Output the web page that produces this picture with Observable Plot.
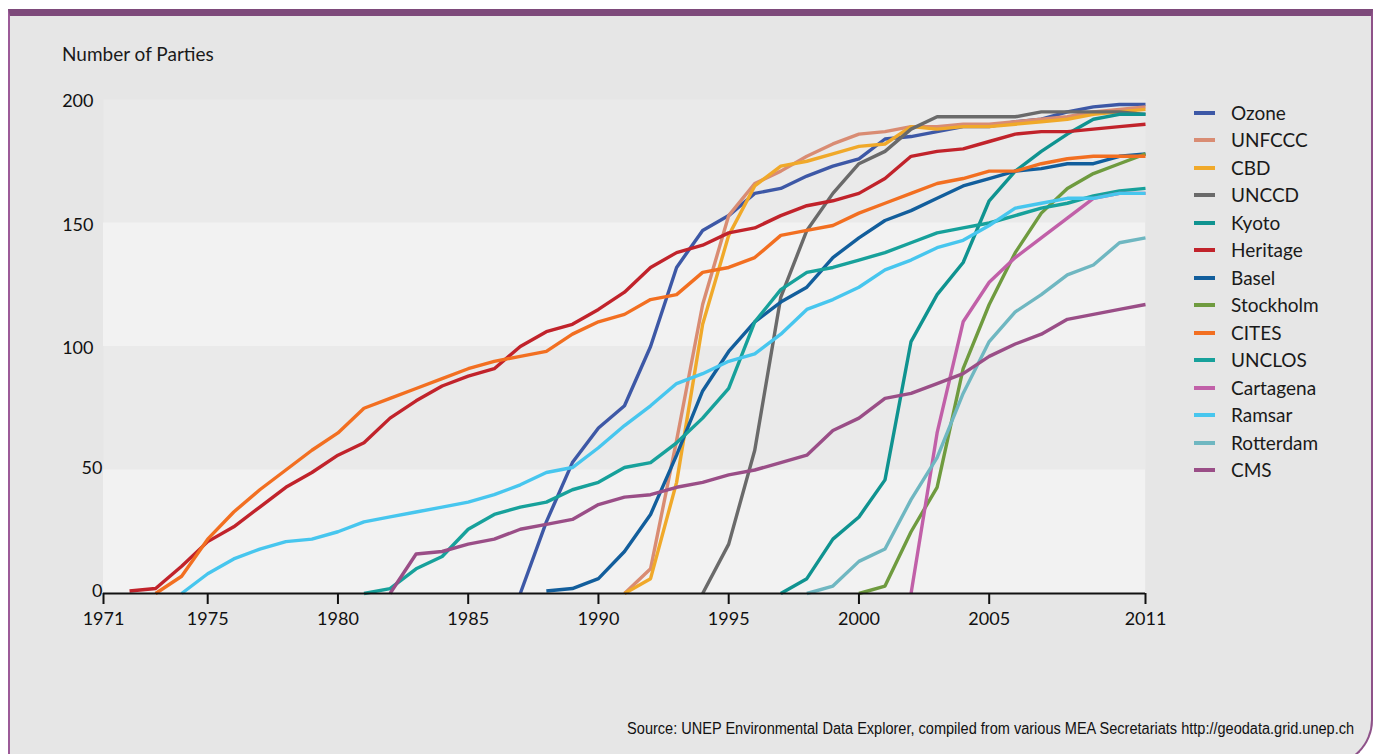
<!DOCTYPE html>
<html>
<head>
<meta charset="utf-8">
<script src="https://cdn.jsdelivr.net/npm/d3@7"></script>
<script src="https://cdn.jsdelivr.net/npm/@observablehq/plot@0.6"></script>
<style>
  html, body { margin: 0; padding: 0; background: #ffffff; }
  body { width: 1373px; height: 754px; overflow: hidden; position: relative; font-family: "Lato", "Noto Sans", sans-serif; color: #1a1a1a; }
  #panel { position: absolute; left: 8px; top: 9px; width: 1365px; height: 757px; box-sizing: border-box;
           background: #e6e6e6; border-top: 7px solid #7e4a7b; border-left: 2px solid #9c5b98;
           border-right: 2px solid #8e5289; border-bottom: 2px solid #8e5289; border-bottom-right-radius: 46px; }
  #chart { position: absolute; left: 0; top: 0; }
  #title { position: absolute; left: 62px; top: 43px; font-size: 19px; line-height: 22px; white-space: nowrap; }
  .lg-item { position: absolute; left: 1194px; height: 22px; }
  .lg-sw { position: absolute; left: 0; top: 9px; width: 21px; height: 4px; }
  .lg-tx { position: absolute; left: 37px; top: 0; font-size: 19px; line-height: 22px; white-space: nowrap; }
  #source { position: absolute; right: 19px; top: 719px; font-family: "Liberation Sans Narrow", "Arial Narrow", "Liberation Sans", sans-serif;
            font-size: 16px; line-height: 20px; white-space: nowrap; color: #111; transform-origin: 100% 50%; }
</style>
</head>
<body>
<div id="panel"></div>
<div id="title">Number of Parties</div>
<div id="chart"></div>
<div id="legend"></div>
<div id="source">Source: UNEP Environmental Data Explorer, compiled from various MEA Secretariats http://geodata.grid.unep.ch</div>
<script>
// ---------- data ----------
const seriesNames  = ["Ozone", "UNFCCC", "CBD", "UNCCD", "Kyoto", "Heritage", "Basel", "Stockholm", "CITES", "UNCLOS", "Cartagena", "Ramsar", "Rotterdam", "CMS"];
const seriesColors = ["#3d58a6", "#d98c73", "#f0a92a", "#6a6a6a", "#0f9390", "#c1232b", "#125e9c", "#6f9b3f", "#f26f21", "#17a19b", "#c160a8", "#47c6ee", "#6fb7c1", "#9a4e87"];
const seriesStart  = [1987, 1991, 1991, 1994, 1997, 1972, 1988, 2000, 1973, 1981, 2002, 1974, 1998, 1982];

const ozone     = [0, 29, 53, 67, 76, 100, 132, 147, 153, 162, 164, 169, 173, 176, 184, 185, 187, 189, 189, 191, 192, 195, 197, 198, 198];
const unfccc    = [0, 10, 62, 117, 153, 166, 171, 177, 182, 186, 187, 189, 189, 190, 190, 191, 192, 193, 195, 196, 197];
const cbd       = [0, 6, 45, 109, 145, 165, 173, 175, 178, 181, 182, 189, 188, 189, 189, 190, 191, 192, 194, 195, 196];
const unccd     = [0, 20, 58, 120, 147, 162, 174, 179, 188, 193, 193, 193, 193, 195, 195, 195, 195, 194];
const kyoto     = [0, 6, 22, 31, 46, 102, 121, 134, 159, 171, 179, 186, 192, 194, 194];
const heritage  = [1, 2, 11, 21, 27, 35, 43, 49, 56, 61, 71, 78, 84, 88, 91, 100, 106, 109, 115, 122, 132, 138, 141, 146, 148, 153, 157, 159, 162, 168, 177, 179, 180, 183, 186, 187, 187, 188, 189, 190];
const basel     = [1, 2, 6, 17, 32, 56, 82, 98, 110, 118, 124, 136, 144, 151, 155, 160, 165, 168, 171, 172, 174, 174, 177, 178];
const stockholm = [0, 3, 25, 43, 91, 117, 138, 154, 164, 170, 174, 178];
const cites     = [0, 7, 22, 33, 42, 50, 58, 65, 75, 79, 83, 87, 91, 94, 96, 98, 105, 110, 113, 119, 121, 130, 132, 136, 145, 147, 149, 154, 158, 162, 166, 168, 171, 171, 174, 176, 177, 177, 177];
const unclos    = [0, 2, 10, 15, 26, 32, 35, 37, 42, 45, 51, 53, 61, 71, 83, 110, 123, 130, 132, 135, 138, 142, 146, 148, 150, 153, 156, 158, 161, 163, 164];
const cartagena = [0, 65, 110, 126, 136, 144, 152, 160, 162, 162];
const ramsar    = [0, 8, 14, 18, 21, 22, 25, 29, 31, 33, 35, 37, 40, 44, 49, 51, 59, 68, 76, 85, 89, 94, 97, 105, 115, 119, 124, 131, 135, 140, 143, 149, 156, 158, 160, 160, 162, 162];
const rotterdam = [0, 3, 13, 18, 38, 55, 81, 102, 114, 121, 129, 133, 142, 144];
const cms       = [0, 16, 17, 20, 22, 26, 28, 30, 36, 39, 40, 43, 45, 48, 50, 53, 56, 66, 71, 79, 81, 85, 89, 96, 101, 105, 111, 113, 115, 117];

const seriesValues = [ozone, unfccc, cbd, unccd, kyoto, heritage, basel, stockholm, cites, unclos, cartagena, ramsar, rotterdam, cms];

const xDomain = [1971, 2011];
const yDomain = [0, 200];
const xTicks = [1971, 1975, 1980, 1985, 1990, 1995, 2000, 2005, 2011];
const yTicksWide = [100, 150, 200];
const yTicksNarrow = [0, 50];
const lightBands = [[0, 50], [100, 150]];

// ---------- build rows ----------
const rows = [];
seriesNames.forEach((name, i) => {
  seriesValues[i].forEach((v, j) => rows.push({series: name, year: seriesStart[i] + j, value: v}));
});

const W = 1373, H = 660;
const chart = Plot.plot({
  width: W,
  height: H,
  marginLeft: 103,
  marginRight: 228,
  marginTop: 99,
  marginBottom: 67,
  style: {fontFamily: "Lato, 'Noto Sans', sans-serif", fontSize: "18px", background: "transparent", color: "#1a1a1a", overflow: "visible"},
  x: {domain: xDomain, axis: null},
  y: {domain: yDomain, axis: null},
  color: {domain: seriesNames, range: seriesColors},
  marks: [
    Plot.frame({fill: "#eaeaea", stroke: null}),
    Plot.rectY(lightBands, {x1: xDomain[0], x2: xDomain[1], y1: d => d[0], y2: d => d[1], fill: "#f2f2f2"}),
    Plot.lineY(rows, {x: "year", y: "value", z: "series", stroke: "series", strokeWidth: 3.4, strokeLinecap: "butt"}),
    Plot.ruleY([0], {stroke: "#111", strokeWidth: 2}),
    Plot.axisX(xTicks, {anchor: "bottom", tickSize: 11, tickPadding: 8, strokeWidth: 2, stroke: "#111", fill: "#111", fontSize: 18, tickFormat: d => String(d), label: null}),
    Plot.axisY(yTicksWide, {anchor: "left", tickSize: 0, tickPadding: 10, dy: 2, fill: "#111", fontSize: 18, label: null}),
    Plot.axisY(yTicksNarrow, {anchor: "left", tickSize: 0, tickPadding: 1, dy: -2, fill: "#111", fontSize: 18, label: null})
  ]
});
document.getElementById("chart").appendChild(chart);

// ---------- legend ----------
const legend = document.getElementById("legend");
seriesNames.forEach((name, i) => {
  const item = document.createElement("div");
  item.className = "lg-item";
  item.style.top = (101.7 + i * 27.5) + "px";
  const sw = document.createElement("div");
  sw.className = "lg-sw";
  sw.style.background = seriesColors[i];
  const tx = document.createElement("div");
  tx.className = "lg-tx";
  tx.textContent = name;
  item.appendChild(sw);
  item.appendChild(tx);
  legend.appendChild(item);
});

// ---------- fit source line to its width in the reference ----------
const src = document.getElementById("source");
const sw = src.getBoundingClientRect().width;
if (sw > 0) src.style.transform = "scaleX(" + (727 / sw) + ")";
</script>
</body>
</html>
